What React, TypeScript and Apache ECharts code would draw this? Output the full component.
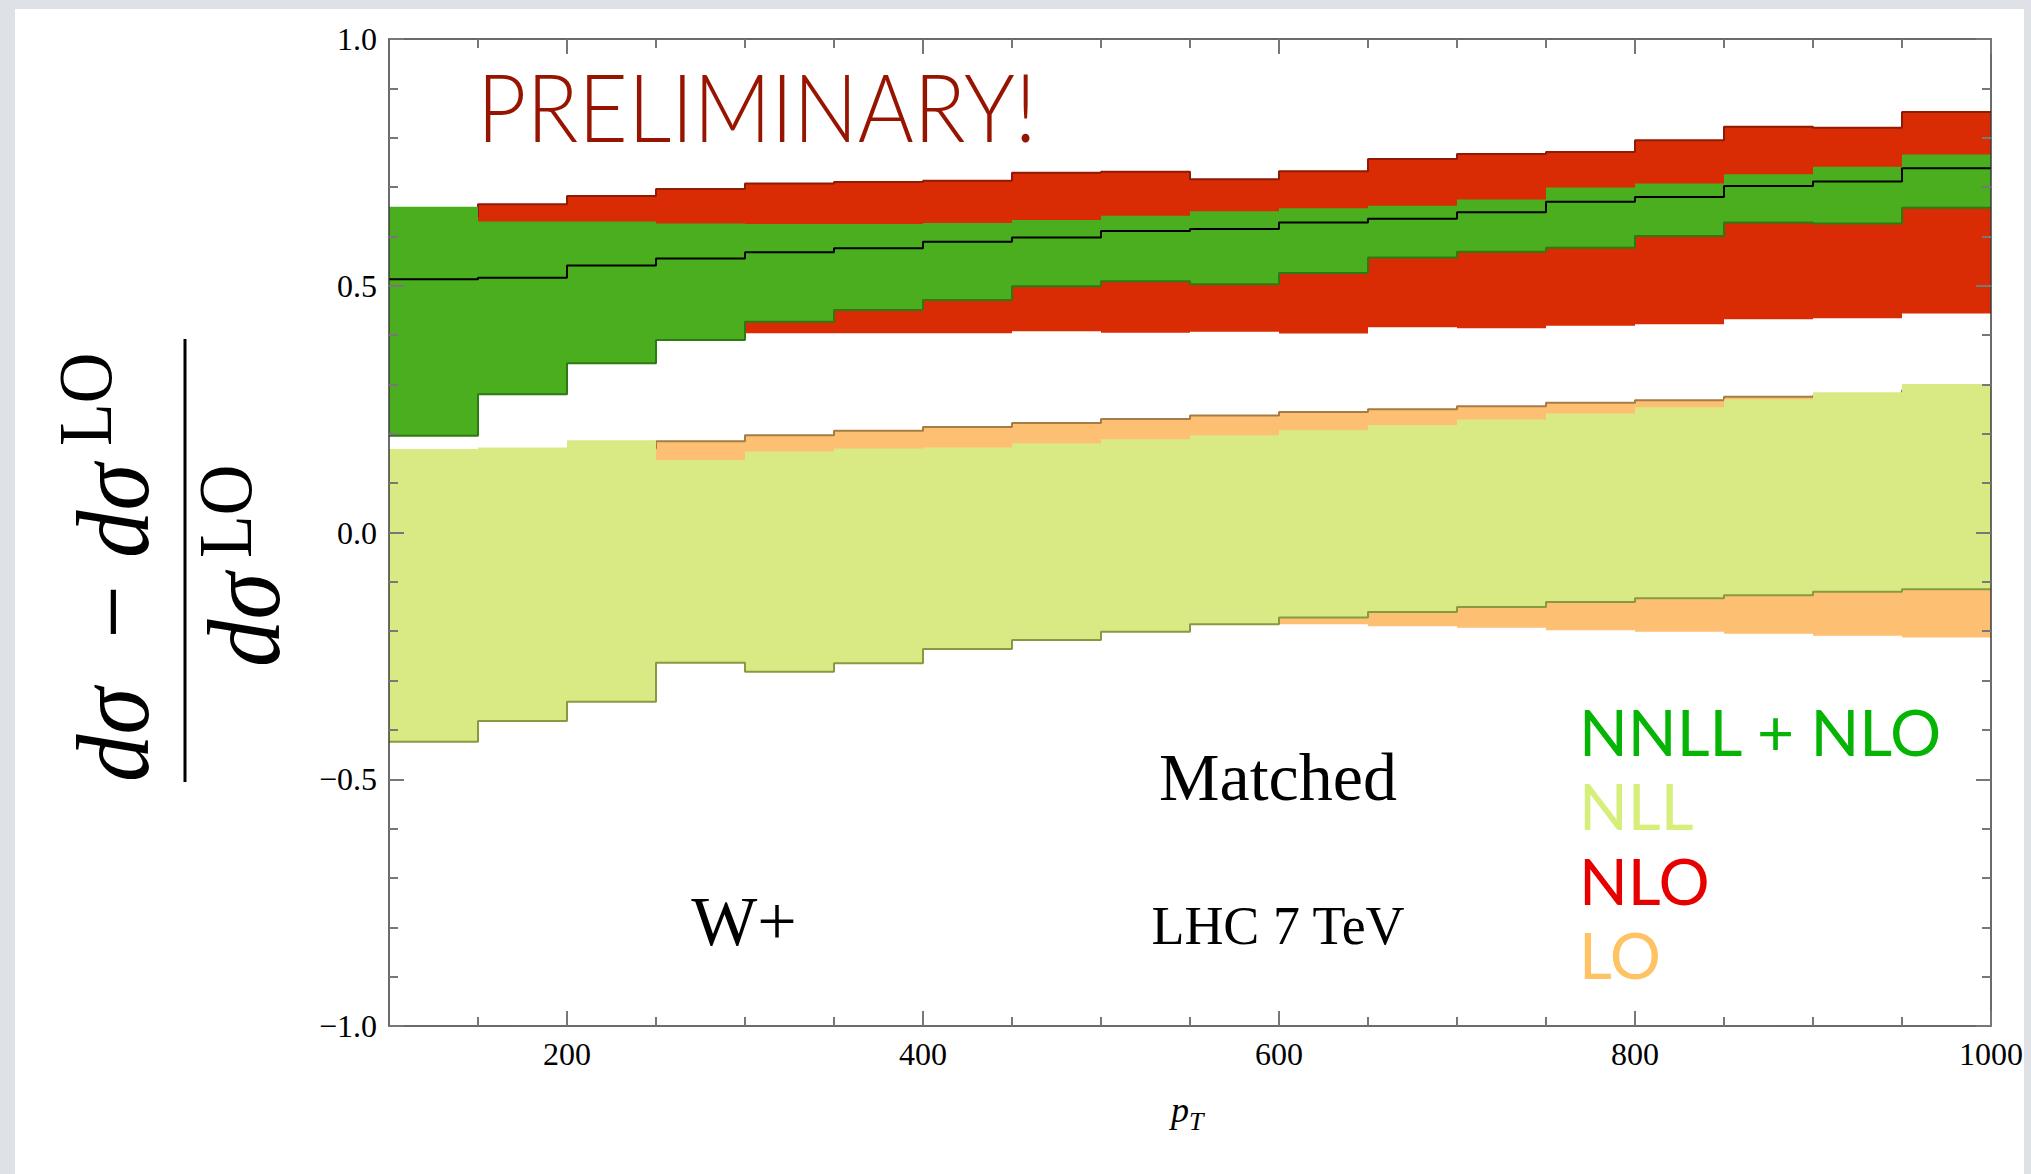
import React, { useEffect, useRef } from "react";
import * as echarts from "echarts";

// ---------- data ----------
const BIN_EDGES = [100, 150, 200, 250, 300, 350, 400, 450, 500, 550, 600, 650, 700, 750, 800, 850, 900, 950, 1000];
const X_MAJOR_TICKS = [200, 400, 600, 800, 1000];
const X_MINOR_TICKS = [150, 250, 300, 350, 450, 500, 550, 650, 700, 750, 850, 900, 950];

// NNLL + NLO (matched) band and central value
const NNLL_CENTRAL = [0.513, 0.516, 0.541, 0.555, 0.568, 0.576, 0.589, 0.598, 0.611, 0.615, 0.628, 0.636, 0.649, 0.670, 0.680, 0.702, 0.711, 0.738];
const NNLL_UPPER = [0.660, 0.630, 0.630, 0.626, 0.625, 0.625, 0.627, 0.633, 0.642, 0.651, 0.657, 0.662, 0.675, 0.699, 0.707, 0.726, 0.741, 0.766];
const NNLL_LOWER = [0.196, 0.280, 0.343, 0.390, 0.427, 0.451, 0.471, 0.499, 0.509, 0.503, 0.526, 0.557, 0.569, 0.577, 0.601, 0.628, 0.626, 0.658];

// NLO band
const NLO_UPPER = [0.640, 0.665, 0.682, 0.696, 0.707, 0.710, 0.713, 0.729, 0.731, 0.716, 0.732, 0.757, 0.767, 0.771, 0.795, 0.822, 0.820, 0.852];
const NLO_LOWER = [0.390, 0.395, 0.400, 0.400, 0.404, 0.404, 0.404, 0.408, 0.405, 0.407, 0.403, 0.416, 0.414, 0.419, 0.422, 0.432, 0.434, 0.444];

// NLL band
const NLL_UPPER = [0.169, 0.172, 0.187, 0.147, 0.164, 0.170, 0.172, 0.181, 0.189, 0.197, 0.207, 0.218, 0.229, 0.241, 0.254, 0.270, 0.284, 0.301];
const NLL_LOWER = [-0.424, -0.382, -0.343, -0.264, -0.282, -0.265, -0.236, -0.218, -0.201, -0.186, -0.172, -0.161, -0.151, -0.141, -0.133, -0.127, -0.120, -0.115];

// LO band
const LO_UPPER = [0.150, 0.155, 0.170, 0.185, 0.197, 0.206, 0.214, 0.222, 0.230, 0.237, 0.244, 0.250, 0.256, 0.263, 0.268, 0.275, 0.277, 0.288];
const LO_LOWER = [-0.150, -0.155, -0.160, -0.165, -0.170, -0.172, -0.175, -0.178, -0.181, -0.184, -0.186, -0.190, -0.193, -0.198, -0.201, -0.205, -0.209, -0.213];

const LEGEND_LABELS = ["NNLL + NLO", "NLL", "NLO", "LO"];

// ---------- styles ----------
const SERIF = "Liberation Serif";
const SANS = "Lato";
const C_NLO = "#d92c05";
const C_NNLL = "#4aae1e";
const C_NLL = "#d9e983";
const C_LO = "#fdc072";

const stepData = (vals: number[]) => BIN_EDGES.map((x, i) => [x, vals[Math.min(i, vals.length - 1)]]);

// Filled band between lower and upper histogram edges, positioned through the axes (api.coord)
function bandSeries(id: string, lower: number[], upper: number[], color: string, z: number) {
  return {
    type: "custom", id, silent: true, clip: true, z,
    data: [[BIN_EDGES[0], lower[0]]],
    encode: { x: 0, y: 1 },
    renderItem: (_params: any, api: any) => {
      const pts: number[][] = [];
      for (let i = 0; i < upper.length; i++) {
        pts.push(api.coord([BIN_EDGES[i], upper[i]]));
        pts.push(api.coord([BIN_EDGES[i + 1], upper[i]]));
      }
      for (let i = lower.length - 1; i >= 0; i--) {
        pts.push(api.coord([BIN_EDGES[i + 1], lower[i]]));
        pts.push(api.coord([BIN_EDGES[i], lower[i]]));
      }
      return { type: "polygon", shape: { points: pts }, style: { fill: color, stroke: null } };
    },
  };
}

function edgeSeries(id: string, vals: number[], color: string, z: number, width = 2) {
  return {
    type: "line", id, step: "end", data: stepData(vals), symbol: "none", silent: true, z,
    lineStyle: { color, width },
  };
}

function txt(x: number, y: number, text: string, fontSize: number, fontFamily: string, fill: string, align = "left", extra: any = {}) {
  const { style: extraStyle, ...rest } = extra;
  return {
    type: "text", x, y, z: 20, silent: true, ...rest,
    style: { text, fontSize, fontFamily, fill, align, verticalAlign: "middle", ...(extraStyle || {}) },
  };
}

const yLabelFmt = (v: number) => (v < 0 ? "\u2212" : "") + Math.abs(v).toFixed(1);
const xLabelFmt = (v: number) => String(v);

export default function App() {
  const ref = useRef<HTMLDivElement>(null);

  useEffect(() => {
    if (!ref.current) return;
    const chart = echarts.init(ref.current, null, { renderer: "svg" });

    const tickStyle = { color: "#777", width: 2 };
    const axisLineStyle = { color: "#3a3a3a", width: 1.5 };
    const gridPos = { left: 389, right: 40, top: 39, bottom: 148 };

    const xBase = { type: "value", min: 100, max: 1000, splitLine: { show: false } };
    const yBase = { type: "value", min: -1, max: 1, interval: 0.5, splitLine: { show: false }, minorSplitLine: { show: false } };

    const mathText = (x: number, y: number, text: string, fontSize: number, italic: boolean, align = "left") => ({
      type: "text", x, y, scaleY: 1.1,
      style: { text, fontFamily: SERIF, fontStyle: italic ? "italic" : "normal", fontSize, fill: "#000", align, verticalAlign: "middle" },
    });

    const option: any = {
      animation: false,
      backgroundColor: "transparent",
      grid: [{ ...gridPos }, { ...gridPos }],
      xAxis: [
        {
          ...xBase, gridIndex: 0, position: "bottom", z: 12,
          axisLine: { show: true, onZero: false, lineStyle: axisLineStyle },
          axisTick: { show: true, inside: true, length: 15, customValues: X_MAJOR_TICKS, lineStyle: tickStyle },
          axisLabel: { show: true, customValues: X_MAJOR_TICKS, formatter: xLabelFmt, fontFamily: SERIF, fontSize: 32, color: "#000", margin: 12 },
        },
        {
          ...xBase, gridIndex: 0, position: "top", z: 12,
          axisLine: { show: true, onZero: false, lineStyle: axisLineStyle },
          axisTick: { show: true, inside: true, length: 15, customValues: X_MAJOR_TICKS, lineStyle: tickStyle },
          axisLabel: { show: false },
        },
        {
          ...xBase, gridIndex: 1, position: "bottom", z: 12,
          axisLine: { show: false, onZero: false },
          axisTick: { show: true, inside: true, length: 9, customValues: X_MINOR_TICKS, lineStyle: tickStyle },
          axisLabel: { show: false },
        },
        {
          ...xBase, gridIndex: 1, position: "top", z: 12,
          axisLine: { show: false, onZero: false },
          axisTick: { show: true, inside: true, length: 9, customValues: X_MINOR_TICKS, lineStyle: tickStyle },
          axisLabel: { show: false },
        },
      ],
      yAxis: [
        {
          ...yBase, gridIndex: 0, position: "left", z: 12,
          axisLine: { show: true, onZero: false, lineStyle: axisLineStyle },
          axisTick: { show: true, inside: true, length: 15, lineStyle: tickStyle },
          minorTick: { show: true, splitNumber: 5, length: 9, lineStyle: tickStyle },
          axisLabel: { show: true, formatter: yLabelFmt, fontFamily: SERIF, fontSize: 32, color: "#000", margin: 12 },
        },
        {
          ...yBase, gridIndex: 0, position: "right", z: 12,
          axisLine: { show: true, onZero: false, lineStyle: axisLineStyle },
          axisTick: { show: true, inside: true, length: 15, lineStyle: tickStyle },
          minorTick: { show: true, splitNumber: 5, length: 9, lineStyle: tickStyle },
          axisLabel: { show: false },
        },
        { ...yBase, gridIndex: 1, show: false },
      ],
      series: [
        bandSeries("nlo", NLO_LOWER, NLO_UPPER, C_NLO, 2),
        edgeSeries("nlo_top", NLO_UPPER, "#8f1a06", 3),
        bandSeries("lo", LO_LOWER, LO_UPPER, C_LO, 2),
        edgeSeries("lo_top", LO_UPPER, "#a67c46", 3),
        bandSeries("nnll", NNLL_LOWER, NNLL_UPPER, C_NNLL, 4),
        edgeSeries("nnll_bottom", NNLL_LOWER, "#2e7a12", 5),
        bandSeries("nll", NLL_LOWER, NLL_UPPER, C_NLL, 4),
        edgeSeries("nll_bottom", NLL_LOWER, "#879a42", 5),
        edgeSeries("nnll_central", NNLL_CENTRAL, "#000000", 6, 2),
      ],
      graphic: {
        elements: [
          // fraction bar of the y-axis title
          { type: "rect", shape: { x: 183.5, y: 339, width: 3, height: 443 }, style: { fill: "#000" }, silent: true, z: 20 },
          {
            type: "group", x: 185, y: 560, rotation: Math.PI / 2, silent: true, z: 20,
            children: [
              // numerator: dσ − dσ^LO
              mathText(-222, -72, "d\u03c3", 95, true),
              mathText(-52, -72, "\u2212", 95, false, "center"),
              mathText(2, -72, "d\u03c3", 95, true),
              mathText(114, -100, "LO", 70, false),
              // denominator: dσ^LO
              mathText(-107, 59, "d\u03c3", 95, true),
              mathText(2, 40, "LO", 70, false),
            ],
          },
          // x-axis title p_T
          txt(1171, 1110, "p", 36, SERIF, "#000", "left", { style: { fontStyle: "italic" } }),
          txt(1189, 1121, "T", 26, SERIF, "#000", "left", { style: { fontStyle: "italic" } }),
          // annotations
          txt(477, 105, "PRELIMINARY!", 95, SANS, "#961400", "left", { scaleX: 0.9, style: { fontWeight: 300 } }),
          txt(1278, 777, "Matched", 68, SERIF, "#000", "center"),
          txt(1278, 926, "LHC 7 TeV", 54, SERIF, "#000", "center"),
          txt(744, 921, "W+", 70, SERIF, "#000", "center"),
          // legend
          txt(1579, 731, LEGEND_LABELS[0], 64, SANS, "#06b406"),
          txt(1579, 805, LEGEND_LABELS[1], 64, SANS, "#d6ef7a"),
          txt(1579, 880, LEGEND_LABELS[2], 64, SANS, "#e60000"),
          txt(1579, 954, LEGEND_LABELS[3], 64, SANS, "#ffc264"),
        ],
      },
    };

    chart.setOption(option);
    return () => chart.dispose();
  }, []);

  return (
    <div style={{ position: "fixed", left: 0, top: 0, width: 2031, height: 1174, background: "#dee1e6", overflow: "hidden" }}>
      <div style={{ position: "absolute", left: 15, top: 9, width: 2009, height: 1165, background: "#ffffff" }} />
      <div ref={ref} style={{ position: "absolute", left: 0, top: 0, width: 2031, height: 1174 }} />
    </div>
  );
}
